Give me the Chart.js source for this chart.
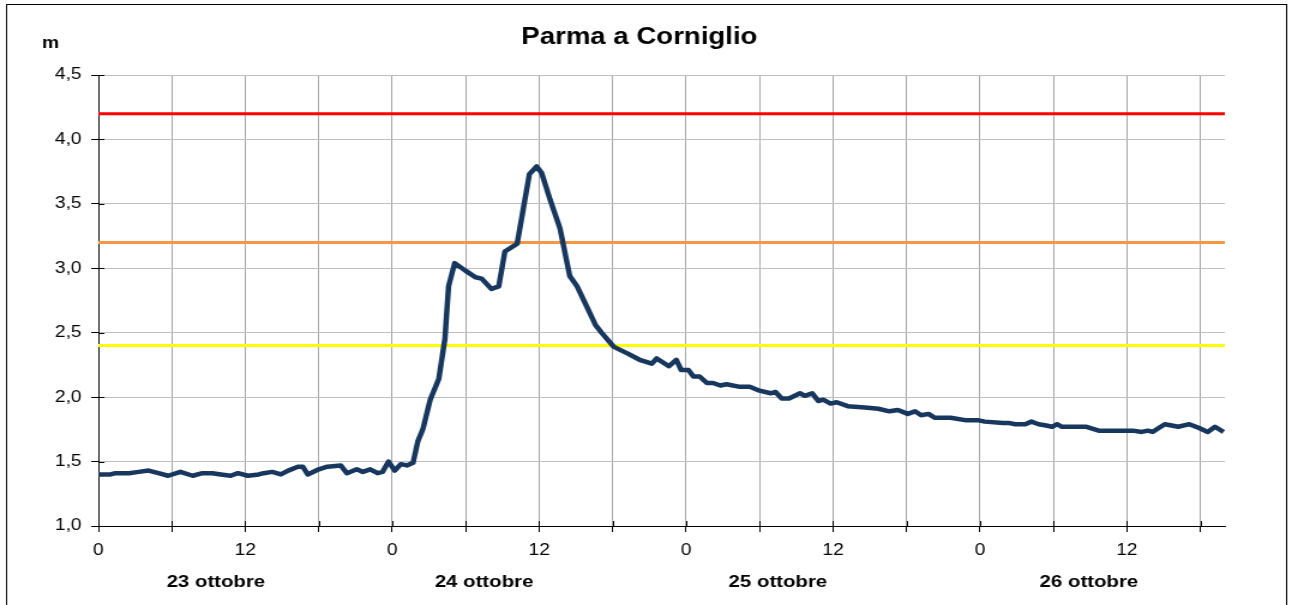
<!DOCTYPE html>
<html>
<head>
<meta charset="utf-8">
<title>Parma a Corniglio</title>
<script src="https://cdn.jsdelivr.net/npm/chart.js@4"></script>
<style>
    html, body { margin: 0; padding: 0; background: #fff; overflow: hidden; }
</style>
</head>
<body>
<!-- the reference is an Excel chart stretched sideways, so draw narrow and stretch -->
<canvas id="levelChart" width="1077" height="605" style="display:block;width:1292px;height:605px"></canvas>
<script>
// Water level data (hours from 23 ottobre 00:00, metres)
const hours = [
    0, 1.0, 1.4, 2.5, 3.3, 4.1, 4.9, 5.7, 6.7, 7.7, 8.5, 9.3, 10.0, 10.8, 11.4, 12.2,
    13.1, 13.5, 14.2, 14.9, 15.5, 16.3, 16.7, 17.1, 18.0, 18.7, 19.8, 20.3, 21.1, 21.6,
    22.2, 22.8, 23.2, 23.7, 24.2, 24.7, 25.2, 25.7, 26.1, 26.5, 27.1, 27.8, 28.3, 28.6,
    29.1, 30.0, 30.8, 31.3, 32.1, 32.7, 33.2, 34.2, 35.2, 35.8, 36.2, 36.9, 37.7, 38.5,
    39.1, 39.9, 40.6, 41.1, 42.1, 43.2, 44.2, 45.2, 45.6, 46.6, 47.2, 47.6, 48.2, 48.6,
    49.1, 49.7, 50.2, 50.8, 51.3, 52.4, 53.2, 54.0, 54.9, 55.3, 55.8, 56.4, 57.3, 57.7,
    58.3, 58.8, 59.2, 59.8, 60.3, 61.2, 62.6, 63.7, 64.6, 65.3, 66.1, 66.7, 67.2, 67.8,
    68.3, 69.6, 70.9, 71.9, 72.4, 73.9, 74.3, 74.9, 75.7, 76.2, 76.8, 77.4, 77.9, 78.3,
    78.7, 79.5, 80.7, 81.7, 82.1, 83.2, 84.5, 85.2, 85.7, 86.1, 86.6, 87.1, 88.2, 89.1,
    89.9, 90.6, 91.2, 91.9
];
const level = [
    1.40, 1.40, 1.41, 1.41, 1.42, 1.43, 1.41, 1.39, 1.42, 1.39, 1.41, 1.41, 1.40, 1.39, 1.41, 1.39,
    1.40, 1.41, 1.42, 1.40, 1.43, 1.46, 1.46, 1.40, 1.44, 1.46, 1.47, 1.41, 1.44, 1.42,
    1.44, 1.41, 1.42, 1.50, 1.43, 1.48, 1.47, 1.49, 1.66, 1.75, 1.98, 2.14, 2.45, 2.86,
    3.04, 2.98, 2.93, 2.92, 2.84, 2.86, 3.13, 3.19, 3.73, 3.79, 3.74, 3.53, 3.31, 2.94,
    2.86, 2.70, 2.56, 2.50, 2.39, 2.34, 2.29, 2.26, 2.30, 2.24, 2.29, 2.21, 2.21, 2.16,
    2.16, 2.11, 2.11, 2.09, 2.10, 2.08, 2.08, 2.05, 2.03, 2.04, 1.99, 1.99, 2.03, 2.01,
    2.03, 1.97, 1.98, 1.95, 1.96, 1.93, 1.92, 1.91, 1.89, 1.90, 1.87, 1.89, 1.86, 1.87,
    1.84, 1.84, 1.82, 1.82, 1.81, 1.80, 1.80, 1.79, 1.79, 1.81, 1.79, 1.78, 1.77, 1.79,
    1.77, 1.77, 1.77, 1.74, 1.74, 1.74, 1.74, 1.73, 1.74, 1.73, 1.76, 1.79, 1.77, 1.79,
    1.76, 1.73, 1.77, 1.73
];

// Alert thresholds
const thresholds = [4.2, 3.2, 2.4];

// Axis text
const xTickLabels = ['0', '', '12', ''];   // repeats every 24 h, one per 6 h step
const dayLabels = ['23 ottobre', '24 ottobre', '25 ottobre', '26 ottobre'];
const chartTitle = 'Parma a Corniglio';
const unitLabel = 'm';

const HOUR_MAX = 92;
const thresholdColors = ['#ff0000', '#f79646', '#ffff00'];
const dayLabelHours = [9.6, 31.5, 55.5, 80.9];
const FONT = 'Arial, "Liberation Sans", sans-serif';

// Title, unit, day names, tick stubs inside the axes and outer frame
const decorPlugin = {
    id: 'decor',
    afterDraw(chart) {
        const ctx = chart.ctx;
        const xScale = chart.scales.x;
        const yScale = chart.scales.y;
        const area = chart.chartArea;
        ctx.save();
        ctx.strokeStyle = '#000';
        ctx.lineWidth = 1;
        ctx.strokeRect(5.5, 4.5, chart.width - 10, chart.height + 20);

        // Excel draws its tick marks across the axis line
        ctx.beginPath();
        xScale.ticks.forEach(t => {
            const px = Math.round(xScale.getPixelForValue(t.value)) + 0.5;
            ctx.moveTo(px, area.bottom);
            ctx.lineTo(px, area.bottom - 5);
        });
        yScale.ticks.forEach(t => {
            const py = Math.round(yScale.getPixelForValue(t.value)) + 0.5;
            ctx.moveTo(area.left, py);
            ctx.lineTo(area.left + 5, py);
        });
        ctx.stroke();

        ctx.fillStyle = '#000';
        ctx.textAlign = 'center';
        ctx.textBaseline = 'middle';
        ctx.font = 'bold 23px ' + FONT;
        ctx.fillText(chartTitle, 533, 38);

        ctx.font = 'bold 16px ' + FONT;
        ctx.fillText(unitLabel, 42, 44);

        ctx.font = 'bold 17px ' + FONT;
        dayLabels.forEach((label, i) => {
            ctx.fillText(label, xScale.getPixelForValue(dayLabelHours[i]), 582);
        });
        ctx.restore();
    }
};

const ctx = document.getElementById('levelChart').getContext('2d');

const datasets = [{
    data: hours.map((h, i) => ({ x: h, y: level[i] })),
    borderColor: '#17375e',
    borderWidth: 4.5,
    pointRadius: 0,
    tension: 0,
    borderJoinStyle: 'round'
}];
thresholds.forEach((value, i) => {
    datasets.push({
        data: [{ x: 0, y: value }, { x: HOUR_MAX, y: value }],
        borderColor: thresholdColors[i],
        borderWidth: 3,
        pointRadius: 0
    });
});

new Chart(ctx, {
    type: 'line',
    data: { datasets: datasets },
    options: {
        responsive: false,
        animation: false,
        events: [],
        layout: {
            padding: { left: 0, right: 56, top: 75, bottom: 0 }
        },
        plugins: {
            legend: { display: false },
            tooltip: { enabled: false },
            title: { display: false }
        },
        scales: {
            x: {
                type: 'linear',
                min: 0,
                max: HOUR_MAX,
                afterFit: scale => { scale.height = 79; },
                border: { color: '#000', width: 1 },
                grid: {
                    color: '#a6a6a6',
                    tickColor: '#000',
                    tickLength: 6
                },
                ticks: {
                    stepSize: 6,
                    includeBounds: false,
                    autoSkip: false,
                    maxRotation: 0,
                    padding: 9,
                    color: '#000',
                    font: { family: FONT, size: 16 },
                    callback: value => xTickLabels[Math.round(value / 6) % 4]
                }
            },
            y: {
                min: 1,
                max: 4.5,
                afterFit: scale => { scale.width = 82; },
                border: { color: '#000', width: 1 },
                grid: {
                    color: '#bfbfbf',
                    tickColor: '#000',
                    tickLength: 6
                },
                ticks: {
                    stepSize: 0.5,
                    padding: 8,
                    color: '#000',
                    font: { family: FONT, size: 16 },
                    callback: value => value.toFixed(1).replace('.', ',')
                }
            }
        }
    },
    plugins: [decorPlugin]
});
</script>
</body>
</html>
